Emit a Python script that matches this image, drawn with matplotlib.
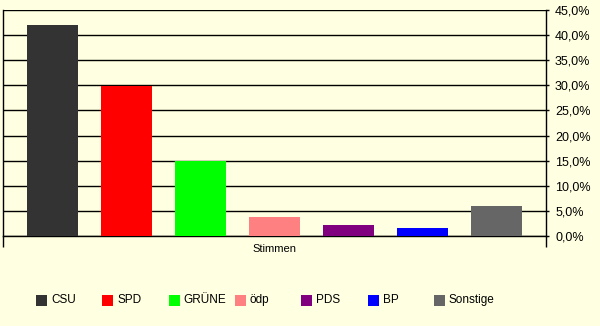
import matplotlib
matplotlib.use("Agg")
import matplotlib.pyplot as plt
from matplotlib.patches import Rectangle
from matplotlib.ticker import FuncFormatter, MultipleLocator

# Ergebnis in Prozent
parteien = ["CSU", "SPD", "GRÜNE", "ödp", "PDS", "BP", "Sonstige"]
stimmen = [42.0, 29.9, 14.9, 3.8, 2.2, 1.6, 6.0]
farben = ["#333333", "#FF0000", "#00FF00", "#FF8080", "#800080", "#0000FF", "#666666"]
gruppe = "Stimmen"

bg = "#FFFFE1"
plt.rcParams["font.family"] = ["Liberation Sans", "DejaVu Sans"]
plt.rcParams["font.size"] = 8

fig = plt.figure(figsize=(6.0, 3.26), dpi=100, facecolor=bg)
ax = fig.add_axes([3 / 600, 1 - 236 / 326, 543 / 600, 226 / 326], facecolor=bg)

n = len(parteien)
xs = list(range(n))
ax.bar(xs, stimmen, width=51 / 74, color=farben, zorder=3)

rand = 49.5 / 74
ax.set_xlim(-rand, n - 1 + rand)
ax.set_ylim(0, 45)

# y-Achse rechts
ax.yaxis.tick_right()
ax.yaxis.set_major_locator(MultipleLocator(5))
ax.yaxis.set_major_formatter(FuncFormatter(lambda v, p: f"{v:.1f}".replace(".", ",") + "%"))
ax.tick_params(axis="y", direction="out", length=2.5, width=1, pad=4.0, colors="black",
               labelsize=9)
ax.grid(axis="y", color="black", linewidth=1, zorder=1)

# x-Achse: Teilstriche an den Rändern, Beschriftung in der Mitte
ax.set_xticks([-rand, n - 1 + rand])
ax.set_xticklabels([])
ax.tick_params(axis="x", which="major", direction="out", length=8, width=1)
ax.set_xticks([(n - 1) / 2], minor=True)
ax.set_xticklabels([gruppe], minor=True)
ax.tick_params(axis="x", which="minor", length=0, pad=6, labelsize=8)

for s in ["left", "right", "bottom"]:
    ax.spines[s].set_color("black")
    ax.spines[s].set_linewidth(1)
ax.spines["top"].set_visible(False)

# Legende
leg_y = 1 - 300 / 326
for i, (name, col) in enumerate(zip(parteien, farben)):
    x0 = 36 + i * 66.3
    fig.add_artist(Rectangle((x0 / 600, leg_y - 5.5 / 326), 11 / 600, 11 / 326,
                             transform=fig.transFigure, facecolor=col, edgecolor="none"))
    fig.text((x0 + 15) / 600, leg_y, name, ha="left", va="center", fontsize=8.5)

fig.savefig("out.png", dpi=100, facecolor=bg)
